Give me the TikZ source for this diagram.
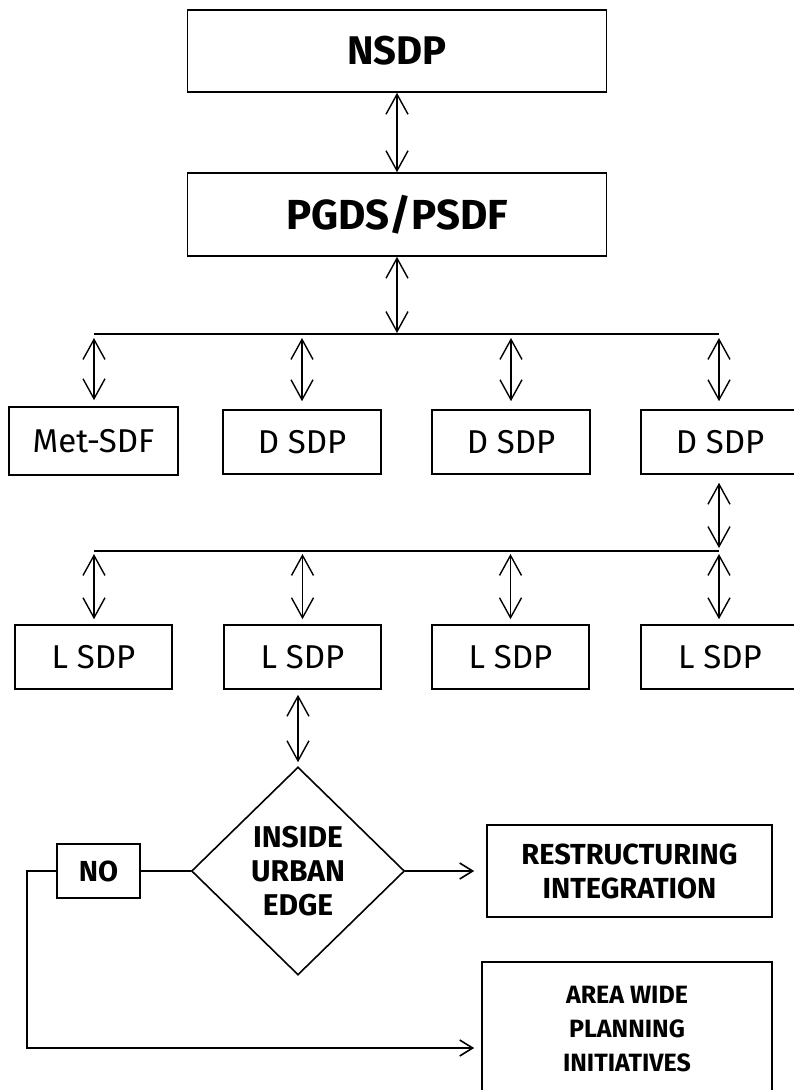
\documentclass[tikz,border=0pt]{standalone}
\usepackage{fontspec}
\setmainfont{Fira Sans}
\usetikzlibrary{arrows.meta,shapes.geometric}
\begin{document}
\begin{tikzpicture}[x=1pt,y=-1pt,
  box/.style={draw, line width=1.6pt, rectangle, inner sep=0pt, align=center},
  dbl/.style={{Straight Barb[length=20pt,width=22pt]}-{Straight Barb[length=20pt,width=22pt]}, line width=1.4pt},
  arr/.style={-{Straight Barb[length=13pt,width=16pt]}, line width=1.6pt},
  bus/.style={line width=2.2pt},
  plain/.style={line width=1.6pt},
  topfont/.style={font=\fontsize{42}{48}\selectfont\bfseries},
  midfont/.style={font=\fontsize{33}{36}\selectfont},
  lowfont/.style={font=\fontsize{29}{34}\selectfont\bfseries},
  areafont/.style={font=\fontsize{25}{34}\selectfont\bfseries}
]
\useasboundingbox (0,0) rectangle (793,1090);

% national and provincial level
\node[box, topfont, font=\fontsize{40}{48}\selectfont\bfseries, minimum width=419pt, minimum height=82pt] (nsdp) at (397,51) {NSDP};
\node[box, topfont, minimum width=419pt, minimum height=83pt] (pgds) at (397,214.5) {PGDS/PSDF};
\draw[dbl] (nsdp.south) -- (pgds.north);

% first distribution bus
\coordinate (b1) at (94,334);
\coordinate (b4) at (719,334);
\draw[bus] (b1) -- (b4);
\draw[dbl, shorten >=1pt] (pgds.south) -- (pgds.south |- b1);

% district level (the rightmost box runs past the page edge)
\node[box, midfont, minimum width=169pt, minimum height=68pt] (met) at (93.5,441) {Met-SDF};
\node[box, midfont, minimum width=158pt, minimum height=64pt] (d1) at (302,442) {D SDP};
\node[box, midfont, minimum width=158pt, minimum height=64pt] (d2) at (511,442) {D SDP};
\node[box, midfont, minimum width=166pt, minimum height=64pt] (d3) at (724,442) {D SDP\hspace*{8pt}};
\draw[dbl, shorten <=4pt, shorten >=6pt] (b1) -- (b1 |- met.north);
\draw[dbl, shorten <=4pt, shorten >=8pt] (d1.north |- b1) -- (d1.north);
\draw[dbl, shorten <=4pt, shorten >=8pt] (d2.north |- b1) -- (d2.north);
\draw[dbl, shorten <=4pt, shorten >=8pt] (b4) -- (b4 |- d3.north);

% second distribution bus
\coordinate (c1) at (94,551);
\coordinate (c4) at (719,551);
\draw[bus] (c1) -- (c4);
\draw[dbl, shorten <=8pt, shorten >=3pt] (d3.south -| c4) -- (c4);

% local level
\node[box, midfont, minimum width=157pt, minimum height=64pt] (l1) at (93.5,657) {L SDP};
\node[box, midfont, minimum width=157pt, minimum height=64pt] (l2) at (302.5,657) {L SDP};
\node[box, midfont, minimum width=157pt, minimum height=64pt] (l3) at (510.5,657) {L SDP};
\node[box, midfont, minimum width=166pt, minimum height=64pt] (l4) at (724,657) {L SDP\hspace*{8pt}};
\draw[dbl, shorten <=3pt, shorten >=5pt] (c1) -- (c1 |- l1.north);
\draw[dbl, shorten <=3pt, shorten >=5pt] (l2.north |- c1) -- (l2.north);
\draw[dbl, shorten <=3pt, shorten >=5pt] (l3.north |- c1) -- (l3.north);
\draw[dbl, shorten <=3pt, shorten >=5pt] (c4) -- (c4 |- l4.north);

% decision
\node[draw, diamond, line width=1.6pt, inner sep=0pt, minimum width=213pt, minimum height=208pt,
      align=center, font=\fontsize{30}{34}\selectfont\bfseries] (dia) at (298,871) {INSIDE\\URBAN\\EDGE};
\draw[dbl, shorten <=5pt, shorten >=4pt] (dia.north |- l2.south) -- (dia.north);

\node[box, lowfont, minimum width=83pt, minimum height=54pt] (no) at (98.5,871) {NO};
\node[box, lowfont, minimum width=285pt, minimum height=92pt] (restr) at (629.5,871) {RESTRUCTURING\\INTEGRATION};
\node[box, areafont, minimum width=290pt, minimum height=133pt, text depth=0pt] (area) at (627,1028.5) {AREA WIDE\\PLANNING\\INITIATIVES};

\draw[plain] (dia.west) -- (no.east);
\draw[arr, shorten >=12pt] (dia.east) -- (restr.west |- dia.east);
\coordinate (loopx) at (27,0);
\coordinate (loopy) at (0,1048);
\draw[arr, shorten >=7pt] (no.west) -- (no.west -| loopx) |- (area.west |- loopy);
\end{tikzpicture}
\end{document}
